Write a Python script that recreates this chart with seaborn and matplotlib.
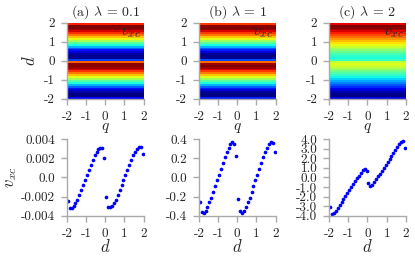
"""
v_xc maps (top) and profiles along d (bottom) for three lambda values.
"""
import matplotlib

matplotlib.use("Agg")
import matplotlib.pyplot as plt
import numpy as np
import pandas as pd
import seaborn as sns

# sample grid along d (also used for q columns of the maps)
d_grid = [-1.95, -1.85, -1.75, -1.65, -1.55, -1.45, -1.35, -1.25, -1.15, -1.05,
          -0.95, -0.85, -0.75, -0.65, -0.55, -0.45, -0.35, -0.25, -0.15, -0.05,
          0.05, 0.15, 0.25, 0.35, 0.45, 0.55, 0.65, 0.75, 0.85, 0.95,
          1.05, 1.15, 1.25, 1.35, 1.45, 1.55, 1.65, 1.75, 1.85, 1.95]
q_grid = d_grid

vxc_a = [-0.0024, -0.0032, -0.0032, -0.0030, -0.0027, -0.0023, -0.0018, -0.0013, -0.0008, -0.0003,
         0.0003, 0.0008, 0.0013, 0.0018, 0.0023, 0.0027, 0.0030, 0.0031, 0.0031, 0.0020,
         -0.0020, -0.0031, -0.0031, -0.0030, -0.0027, -0.0023, -0.0018, -0.0013, -0.0008, -0.0003,
         0.0003, 0.0008, 0.0013, 0.0018, 0.0023, 0.0027, 0.0030, 0.0032, 0.0032, 0.0024]
vxc_b = [-0.26, -0.36, -0.37, -0.35, -0.31, -0.26, -0.21, -0.15, -0.09, -0.03,
         0.03, 0.09, 0.15, 0.21, 0.26, 0.31, 0.35, 0.37, 0.35, 0.22,
         -0.22, -0.35, -0.37, -0.35, -0.31, -0.26, -0.21, -0.15, -0.09, -0.03,
         0.03, 0.09, 0.15, 0.21, 0.26, 0.31, 0.35, 0.37, 0.36, 0.26]
vxc_c = [-3.1, -3.8, -3.7, -3.5, -3.2, -2.9, -2.55, -2.2, -1.9, -1.6,
         -1.3, -1.0, -0.7, -0.4, -0.1, 0.2, 0.5, 0.75, 0.9, 0.65,
         -0.6, -0.85, -0.75, -0.5, -0.2, 0.1, 0.4, 0.7, 1.0, 1.3,
         1.6, 1.9, 2.2, 2.55, 2.9, 3.2, 3.5, 3.7, 3.8, 3.1]

titles = [r"(a) $\lambda$ = 0.1", r"(b) $\lambda$ = 1", r"(c) $\lambda$ = 2"]
axis_ticks = [-2, -1, 0, 1, 2]
axis_labels = ["-2", "-1", "0", "1", "2"]
y_ticks_a = [-0.004, -0.002, 0.0, 0.002, 0.004]
y_labels_a = ["-0.004", "-0.002", "0.0", "0.002", "0.004"]
y_ticks_b = [-0.4, -0.2, 0.0, 0.2, 0.4]
y_labels_b = ["-0.4", "-0.2", "0.0", "0.2", "0.4"]
y_ticks_c = [-4, -3, -2, -1, 0, 1, 2, 3, 4]
y_labels_c = ["-4.0", "-3.0", "-2.0", "-1.0", "0.0", "1.0", "2.0", "3.0", "4.0"]

sns.set_style("ticks")
plt.rcParams["font.family"] = ["cmr10", "DejaVu Serif"]
plt.rcParams["mathtext.fontset"] = "cm"
plt.rcParams["axes.unicode_minus"] = False
plt.rcParams["axes.formatter.use_mathtext"] = True

spine_col = "#aaaaaa"
fig = plt.figure(figsize=(4.15, 2.57), dpi=100)

lefts = [0.161, 0.479, 0.793]
width = 0.185
top_axes = [fig.add_axes([l, 0.615, width, 0.296]) for l in lefts]
bot_axes = [fig.add_axes([l, 0.160, width, 0.299]) for l in lefts]

series = [vxc_a, vxc_b, vxc_c]
yticks = [y_ticks_a, y_ticks_b, y_ticks_c]
ylabels = [y_labels_a, y_labels_b, y_labels_c]
n = len(d_grid)


def style(ax):
    for s in ["top", "right"]:
        ax.spines[s].set_visible(False)
    for s in ["left", "bottom"]:
        ax.spines[s].set_visible(True)
        ax.spines[s].set_color(spine_col)
        ax.spines[s].set_linewidth(1.0)
    ax.tick_params(direction="out", length=4.5, width=1.0, color=spine_col,
                   labelsize=9.5, pad=4)


# ============ maps ============
for ax, v, title in zip(top_axes, series, titles):
    grid = pd.DataFrame(np.tile(np.array(v)[:, None], (1, len(q_grid))),
                        index=d_grid, columns=q_grid).iloc[::-1]
    sns.heatmap(grid, ax=ax, cmap="jet", cbar=False,
                xticklabels=False, yticklabels=False)
    ax.set_xticks([(t + 2) / 4 * n for t in axis_ticks])
    ax.set_xticklabels(axis_labels, rotation=0)
    ax.set_yticks([(2 - t) / 4 * n for t in axis_ticks])
    ax.set_yticklabels(axis_labels, rotation=0)
    style(ax)
    ax.set_title(title, fontsize=10, pad=5)
    ax.set_xlabel("$q$", fontsize=11, labelpad=-1)
    ax.text(0.97, 0.95, "$v_{xc}$", transform=ax.transAxes, ha="right",
            va="top", fontsize=11.5)
top_axes[0].set_ylabel("$d$", fontsize=12, labelpad=4)

# ============ profiles ============
for ax, v, yt, yl in zip(bot_axes, series, yticks, ylabels):
    sns.scatterplot(x=d_grid, y=v, ax=ax, color="blue", s=7, linewidth=0)
    ax.set_xlim(-2, 2)
    ax.set_ylim(yt[0], yt[-1])
    ax.set_xticks(axis_ticks)
    ax.set_xticklabels(axis_labels)
    ax.set_yticks(yt)
    ax.set_yticklabels(yl)
    style(ax)
    ax.set_xlabel("$d$", fontsize=12, labelpad=-1)
bot_axes[0].set_ylabel("$v_{xc}$", fontsize=12, labelpad=1)

plt.savefig("out.png", dpi=100)
